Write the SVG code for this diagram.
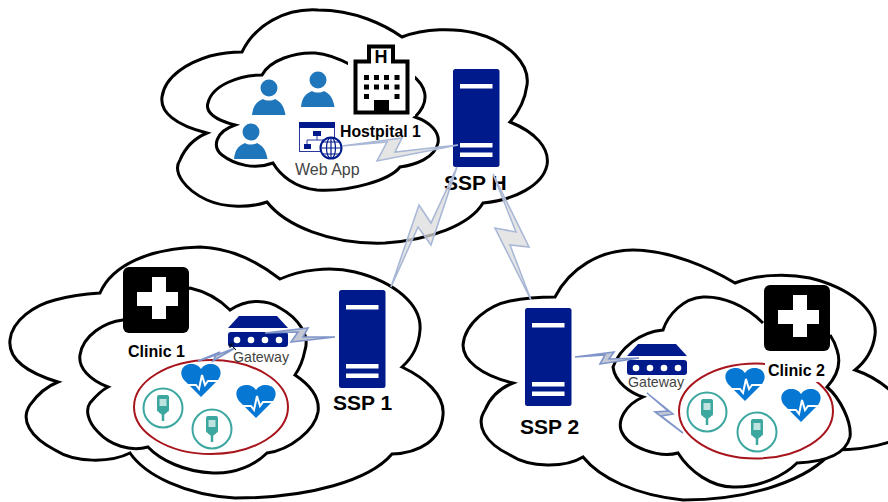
<svg xmlns="http://www.w3.org/2000/svg" width="888" height="502" viewBox="0 0 888 502">
<style>
.cloud{fill:#fff;stroke:#000;stroke-width:3;stroke-linejoin:miter}
.bolt{fill:#dcdcdc;fill-opacity:.75;stroke:#a9b8d6;stroke-width:1.6;stroke-linejoin:miter}
.boltb{fill:#c4c8d4;stroke:#7f95c9;stroke-width:1.6}
.srv{fill:#001a8c}
.bar{fill:#fff}
.gw{fill:#001a8c}
.person{fill:#1f76bb}
.ring{fill:none;stroke:#a8141c;stroke-width:2}
.lab{font-family:"Liberation Sans",Arial,sans-serif;font-weight:bold;fill:#000}
.sub{font-family:"Liberation Sans",Arial,sans-serif;fill:#444}
.big{font-size:21px}
.mid{font-size:16px}
</style>
<defs>
<g id="server"><rect class="srv" width="46.500" height="98" rx="2.500"/><rect class="bar" x="7" y="15" width="32.500" height="4.500"/><rect class="bar" x="7" y="74" width="32.500" height="4.500"/><rect class="bar" x="7" y="83.500" width="32.500" height="4.500"/></g>
<g id="heart"><path fill="#0678d4" d="M20 33L3 16C-3 8 2 0 10 0C15 0 18 2 20 5C22 2 25 0 30 0C38 0 43 8 37 16Z"/><path fill="none" stroke="#fff" stroke-width="2" d="M5 21H15L18 25L21 11L24 21L27 17H37"/></g>
<g id="device"><circle r="19.500" fill="none" stroke="#3ca79f" stroke-width="2"/><rect x="-6" y="-13" width="12" height="17" rx="2" fill="#3ca79f"/><rect x="-3.500" y="-9" width="7" height="7" fill="#bfe3df"/><path d="M-4 4L0 7L4 4" fill="#3ca79f" stroke="#3ca79f"/><path d="M0 6V13" stroke="#3ca79f" stroke-width="2.500"/></g>
<g id="gateway"><path class="gw" d="M11 0H49L60 12H0Z"/><rect class="gw" y="16" width="60" height="15" rx="3"/><g fill="#fff"><circle cx="9" cy="24" r="3.300"/><circle cx="23" cy="24" r="3.300"/><circle cx="37" cy="24" r="3.300"/><circle cx="51" cy="24" r="3.300"/></g></g>
<g id="clinic"><rect width="66" height="66" rx="6" fill="#000"/><path fill="#fff" d="M29 10H43V25H55V39H43V52H29V39H14V25H29Z"/></g>
<g id="person"><circle cx="17" cy="9" r="8.500" class="person"/><path class="person" d="M0 36C1 27 4 23 11 20C14 22 20 22 23 20C29 23 32 27 33.500 36Z"/></g>
</defs>

<g id="cloud-hospital-outer"><path class="cloud" d="M242 52C255 25 285 8 318 10C355 10 385 25 402 37C425 28 455 28 475 33C510 42 530 65 527 85C525 100 518 113 510 122C535 132 550 148 547 165C543 185 515 200 483 203C470 225 430 240 385 243C330 245 285 225 267 202C250 208 225 208 207 200C185 190 172 172 180 160C185 148 195 138 207 133C175 125 160 112 162 97C165 75 190 62 210 56C222 53 232 52 242 52Z"/></g>
<g id="cloud-hospital-inner"><path class="cloud" d="M262 75C270 60 295 52 315 53C330 54 342 60 353 66L412 75C425 85 432 100 415 117C430 122 440 132 438 143C435 158 415 165 400 167C390 180 350 192 317 190C295 188 280 175 273 163C255 170 235 165 222 155C212 147 215 132 235 125C215 120 205 112 208 103C212 85 240 75 262 75Z"/></g>
<g id="cloud-clinic1-outer"><path class="cloud" d="M100 293C112 265 150 248 200 247C235 248 262 265 280 279C300 270 330 266 355 272C395 282 422 305 420 330C419 345 412 358 402 367C425 378 445 395 443 415C441 440 420 453 392 454C370 480 310 498 235 498C185 495 145 475 130 453C110 463 75 463 55 450C30 437 20 420 30 405C37 395 45 387 58 382C25 372 8 358 10 340C12 320 35 305 55 300C70 296 85 294 100 293Z"/></g>
<g id="cloud-clinic1-inner"><path class="cloud" d="M190 288C208 292 222 302 230 310C245 300 265 298 280 308C298 318 310 335 305 350C303 360 300 368 295 375C310 385 320 398 318 412C315 430 290 450 267 453C255 465 235 474 213 473C185 472 160 460 148 447C130 452 110 445 98 432C88 422 85 410 90 403C95 397 100 391 108 387C90 380 78 368 80 355C83 335 105 322 123 320Z"/></g>
<g id="cloud-clinic2-outer"><path class="cloud" d="M555 297C570 268 600 250 633 250C670 250 710 268 735 283C755 275 785 273 810 278C850 288 878 310 875 335C873 350 865 362 855 370C870 375 885 385 895 395V440C875 448 855 450 833 450C810 480 750 500 683 500C635 495 600 478 583 457C565 468 530 468 510 455C485 443 475 425 485 410C490 398 500 388 513 383C480 375 463 360 463 345C465 322 490 305 510 301C525 298 540 297 555 297Z"/></g>
<g id="cloud-clinic2-inner"><path class="cloud" d="M763 323C745 305 722 296 703 297C683 298 668 315 663 330C640 332 620 348 613 367C615 382 630 393 643 397C625 405 618 420 621 430C627 448 660 458 678 453C690 472 712 487 733 487C760 488 785 475 797 463C820 462 845 457 850 437C852 422 840 398 827 387C838 375 841 362 837 350C835 342 832 338 830 335"/></g>

<g id="ring-clinic1"><ellipse class="ring" cx="211" cy="407" rx="77" ry="47"/></g>
<g id="ring-clinic2"><ellipse class="ring" cx="756" cy="411" rx="77" ry="47.500"/></g>

<g id="hospital">
<rect x="348" y="42" width="67" height="74" fill="#fff"/>
<path d="M355.500 61.500H369V46.500H393V61.500H407.500V112.500H355.500Z" fill="#fff" stroke="#000" stroke-width="4"/>
<text x="381" y="63" text-anchor="middle" font-family="Liberation Sans,Arial,sans-serif" font-weight="bold" font-size="18" fill="#000">H</text>
<g fill="#000"><rect x="364" y="75" width="5" height="5"/><rect x="374" y="75" width="5" height="5"/><rect x="384" y="75" width="5" height="5"/><rect x="394.500" y="75" width="5" height="5"/><rect x="364" y="84.500" width="5" height="5"/><rect x="374" y="84.500" width="5" height="5"/><rect x="384" y="84.500" width="5" height="5"/><rect x="394.500" y="84.500" width="5" height="5"/><rect x="364" y="94" width="5" height="5"/><rect x="394.500" y="94" width="5" height="5"/><rect x="374" y="100" width="15" height="14"/></g>
<text class="lab" x="340" y="137" font-size="15.800px">Hostpital 1</text>
</g>
<g id="user-1"><use href="#person" x="252" y="79"/></g>
<g id="user-2"><use href="#person" x="301" y="71"/></g>
<g id="user-3"><use href="#person" x="234" y="123"/></g>

<g id="webapp">
<rect x="299.500" y="122.500" width="35" height="29" fill="#fff" stroke="#2a3a9f" stroke-width="1"/>
<rect x="299" y="122" width="36" height="6" fill="#001a8c"/>
<path d="M307 146V140H327" fill="none" stroke="#2a3a9f"/><path d="M317 140V134" stroke="#2a3a9f"/>
<rect x="313" y="131" width="8" height="5" fill="#001a8c"/><rect x="304" y="144" width="7" height="5" fill="#001a8c"/>
<circle cx="331" cy="148" r="10.500" fill="#fff" stroke="#001a8c" stroke-width="2"/>
<ellipse cx="331" cy="148" rx="4.500" ry="10.500" fill="none" stroke="#001a8c" stroke-width="1.200"/>
<path d="M320.500 148H341.500M322.500 142H339.500M322.500 154H339.500M331 137.500V158.500" stroke="#001a8c" stroke-width="1.200"/>
<text class="sub mid" x="295" y="175">Web App</text>
</g>

<g id="ssp-h"><use href="#server" x="453" y="69"/><text class="lab big" x="444" y="190">SSP H</text></g>
<g id="ssp-1"><use href="#server" x="339" y="290"/><text class="lab big" x="333" y="410">SSP 1</text></g>
<g id="ssp-2"><use href="#server" x="525" y="308"/><text class="lab big" x="520" y="434">SSP 2</text></g>

<g id="clinic-1"><use href="#clinic" x="123" y="267"/><text class="lab mid" x="128" y="357">Clinic 1</text></g>
<g id="clinic-2"><use href="#clinic" x="764" y="285"/><rect x="765" y="360" width="64" height="22" fill="#fff"/><text class="lab mid" x="768" y="376">Clinic 2</text></g>

<g id="gateway-1"><use href="#gateway" x="228" y="316"/><text class="sub" font-size="14.200" x="233" y="362">Gateway</text></g>
<g id="gateway-2"><use href="#gateway" x="627" y="344"/><text class="sub" font-size="14.200" x="628" y="387">Gateway</text></g>

<g id="heart-1a"><use href="#heart" x="181" y="364"/></g>
<g id="heart-1b"><use href="#heart" x="236" y="385"/></g>
<g id="heart-2a"><use href="#heart" x="725" y="368"/></g>
<g id="heart-2b"><use href="#heart" x="781" y="389"/></g>
<g id="device-1a"><use href="#device" x="163" y="408"/></g>
<g id="device-1b"><use href="#device" x="212" y="429"/></g>
<g id="device-2a"><use href="#device" x="707" y="412"/></g>
<g id="device-2b"><use href="#device" x="757" y="432"/></g>

<g id="connectors">
<polygon class="bolt" points="342,146 402,138 395,152 458,145 377,161 387,142"/>
<polygon class="bolt" points="457,167 431,223 419,205 391,287 418,227 431,245"/>
<polygon class="bolt" points="493,174 516,232 495,228 531,300 510,245 529,247"/>
<polygon class="boltb" points="265,333 308,328 303,337 335,337 291,342 298,332"/>
<polygon class="boltb" points="198,361 220,352 217,355 235,348 213,361 216,355"/>
<polygon class="boltb" points="575,357 614,352 609,359 639,358 600,364 605,355"/>
<polygon class="boltb" points="647,393 668,411 655,412 683,433 661,416 673,414"/>
<path d="M230 344L236 350M230 344V348M230 344H234" stroke="#000" fill="none"/>
</g>
</svg>
